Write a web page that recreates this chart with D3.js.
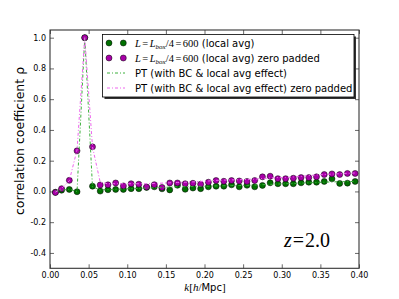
<!DOCTYPE html>
<html><head><meta charset="utf-8">
<script src="https://cdn.jsdelivr.net/npm/d3@7"></script>
<style>body{margin:0;background:#fff}svg{display:block}</style>
</head><body>
<svg id="c" width="399" height="299"></svg>
<script>
const kVals = [0.007,0.015,0.025,0.035,0.045,0.055,0.065,0.075,0.085,0.095,
  0.105,0.115,0.125,0.135,0.145,0.155,0.165,0.175,0.185,0.195,
  0.205,0.215,0.225,0.235,0.245,0.255,0.265,0.275,0.285,0.295,
  0.305,0.315,0.325,0.335,0.345,0.355,0.365,0.375,0.385,0.395];
const localAvg = [-0.005,0.008,0.013,-0.002,1.0,0.034,0.002,0.011,0.013,0.013,
  0.018,0.018,0.026,0.03,0.017,0.01,0.04,0.014,0.022,0.018,
  0.03,0.034,0.034,0.043,0.03,0.04,0.03,0.039,0.056,0.05,
  0.05,0.05,0.056,0.06,0.06,0.065,0.082,0.052,0.054,0.065];
const zeroPadded = [-0.007,0.018,0.072,0.264,1.0,0.29,0.042,0.043,0.055,0.036,
  0.05,0.047,0.029,0.044,0.026,0.055,0.055,0.05,0.053,0.047,
  0.06,0.071,0.066,0.071,0.068,0.065,0.071,0.095,0.099,0.083,
  0.083,0.086,0.09,0.09,0.095,0.11,0.114,0.11,0.117,0.117];
const ptLocal = [0.0,0.008,0.014,0.0,1.0,0.03,0.01,0.012,0.014,0.016,
  0.018,0.02,0.022,0.024,0.026,0.028,0.03,0.031,0.032,0.033,
  0.034,0.036,0.037,0.038,0.039,0.04,0.042,0.044,0.046,0.048,
  0.05,0.052,0.054,0.056,0.058,0.06,0.062,0.063,0.064,0.065];
const ptPadded = [-0.005,0.02,0.07,0.27,1.0,0.29,0.06,0.05,0.05,0.05,
  0.05,0.05,0.05,0.052,0.054,0.056,0.058,0.06,0.062,0.065,
  0.068,0.072,0.074,0.075,0.076,0.078,0.08,0.084,0.088,0.09,
  0.09,0.094,0.098,0.103,0.107,0.11,0.113,0.115,0.118,0.12];
const xTicks = [0.00,0.05,0.10,0.15,0.20,0.25,0.30,0.35,0.40];
const yTicks = [-0.4,-0.2,0.0,0.2,0.4,0.6,0.8,1.0];

const svg = d3.select("#c");
const L = 50, R = 359, T = 30, B = 268.3;
const x = d3.scaleLinear().domain([0,0.40]).range([L,R]);
const y = d3.scaleLinear().domain([-0.5,1.05]).range([B,T]);
const GREEN = "#007000", MAG = "#a800a8", PTG = "#3cb03c", PTM = "#ee66ee";
const fmt2 = d3.format(".2f"), fmt1 = d3.format(".1f");

const tickFont = "DejaVu Sans, sans-serif";
function styleAxis(g){
  g.select(".domain").remove();
  g.selectAll("line").attr("stroke","#000").attr("stroke-width",0.6);
  g.selectAll("text").attr("font-family",tickFont).attr("font-size",8).attr("fill","#000");
}
svg.append("g").attr("transform",`translate(0,${B})`)
  .call(d3.axisBottom(x).tickValues(xTicks).tickFormat(fmt2).tickSize(-4).tickPadding(4)).call(styleAxis);
svg.append("g").attr("transform",`translate(0,${T})`)
  .call(d3.axisTop(x).tickValues(xTicks).tickFormat("").tickSize(-4)).call(styleAxis);
svg.append("g").attr("transform",`translate(${L},0)`)
  .call(d3.axisLeft(y).tickValues(yTicks).tickFormat(d=>fmt1(d).replace("−","-")).tickSize(-4).tickPadding(4)).call(styleAxis);
svg.append("g").attr("transform",`translate(${R},0)`)
  .call(d3.axisRight(y).tickValues(yTicks).tickFormat("").tickSize(-4)).call(styleAxis);

svg.append("clipPath").attr("id","pc").append("rect")
  .attr("x",L).attr("y",T).attr("width",R-L).attr("height",B-T);
const plot = svg.append("g").attr("clip-path","url(#pc)");

const line = arr => d3.line().x((d,i)=>x(kVals[i])).y(d=>y(d))(arr);
const MR = 3.0;
plot.selectAll(".g").data(localAvg).join("circle")
  .attr("cx",(d,i)=>x(kVals[i])).attr("cy",d=>y(d)).attr("r",MR)
  .attr("fill",GREEN).attr("stroke","#000").attr("stroke-width",0.5);
plot.selectAll(".m").data(zeroPadded).join("circle")
  .attr("cx",(d,i)=>x(kVals[i])).attr("cy",d=>y(d)).attr("r",MR)
  .attr("fill",MAG).attr("stroke","#000").attr("stroke-width",0.5);
plot.append("path").attr("d",line(ptLocal)).attr("fill","none")
  .attr("stroke",PTG).attr("stroke-width",1).attr("stroke-dasharray","3,2,1,2");
plot.append("path").attr("d",line(ptPadded)).attr("fill","none")
  .attr("stroke",PTM).attr("stroke-width",1).attr("stroke-dasharray","3,2,1,2");

svg.append("rect").attr("x",L).attr("y",T).attr("width",R-L).attr("height",B-T)
  .attr("fill","none").attr("stroke","#333").attr("stroke-width",1.1);

// legend
const lg = svg.append("g");
const lx = 102.5, ly = 34.5, lw = 251.5, lh = 62.5;
lg.append("rect").attr("x",lx+2).attr("y",ly+2).attr("width",lw).attr("height",lh).attr("fill","#333");
lg.append("rect").attr("x",lx).attr("y",ly).attr("width",lw).attr("height",lh)
  .attr("fill","#fff").attr("stroke","#000").attr("stroke-width",0.8);
const rows = [43,58,73,88];
[GREEN, MAG].forEach((c,i)=>{
  [109,123.3].forEach(px=>lg.append("circle").attr("cx",px).attr("cy",rows[i]).attr("r",MR)
    .attr("fill",c).attr("stroke","#000").attr("stroke-width",0.5));
});
[PTG, PTM].forEach((c,i)=>{
  lg.append("line").attr("x1",107).attr("x2",125).attr("y1",rows[i+2]).attr("y2",rows[i+2])
    .attr("stroke",c).attr("stroke-width",1).attr("stroke-dasharray","3,2,1,2");
});
const LF = 10;
["(local avg)","(local avg) zero padded"].forEach((s,i)=>{
  const t = lg.append("text").attr("x",135).attr("y",rows[i]+3.5).attr("font-size",10.5).attr("font-family","Liberation Serif, serif");
  t.append("tspan").attr("font-style","italic").text("L");
  t.append("tspan").attr("dx",1.5).text("=");
  t.append("tspan").attr("dx",1.5).attr("font-style","italic").text("L");
  t.append("tspan").attr("font-style","italic").attr("font-size",7).attr("dy",2).text("box");
  t.append("tspan").attr("dy",-2).text("/4");
  t.append("tspan").attr("dx",1.5).text("=");
  t.append("tspan").attr("dx",1.5).text("600");
  t.append("tspan").attr("font-family",tickFont).attr("font-size",LF).text(" "+s);
});
["PT (with BC & local avg effect)","PT (with BC & local avg effect) zero padded"].forEach((s,i)=>{
  lg.append("text").attr("x",135).attr("y",rows[i+2]+3.5).attr("font-size",LF)
    .attr("font-family",tickFont).text(s);
});

svg.append("text").attr("transform","translate(24,141) rotate(-90)").attr("text-anchor","middle")
  .attr("font-family",tickFont).attr("font-size",12.5).text("correlation coefficient ρ");
const xl = svg.append("text").attr("x",205).attr("y",291).attr("text-anchor","middle")
  .attr("font-size",11).attr("font-family","Liberation Serif, serif");
xl.append("tspan").attr("font-style","italic").text("k");
xl.append("tspan").text("[");
xl.append("tspan").attr("font-style","italic").text("h");
xl.append("tspan").text("/");
xl.append("tspan").attr("font-family",tickFont).attr("font-size",10).text("Mpc");
xl.append("tspan").text("]");

const zt = svg.append("text").attr("x",284).attr("y",246.5).attr("font-size",20)
  .attr("font-family","Liberation Serif, serif");
zt.append("tspan").attr("font-style","italic").text("z");
zt.append("tspan").attr("dx",1).text("=");
zt.append("tspan").attr("dx",1).text("2.0");
</script>
</body></html>
